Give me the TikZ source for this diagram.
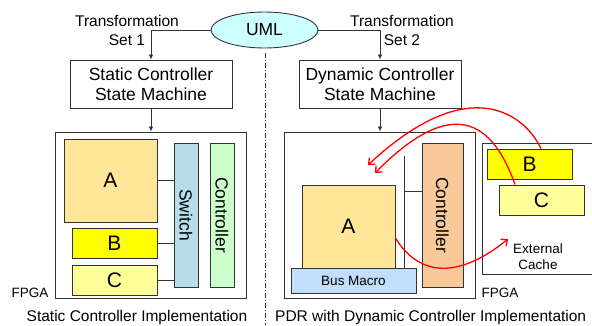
\documentclass[tikz,border=0pt]{standalone}
\usepackage{fontspec}
\setmainfont{Liberation Sans}
\usetikzlibrary{shapes.geometric,arrows.meta,calc}

\definecolor{umlc}{HTML}{CCFFFF}
\definecolor{blockA}{HTML}{FFE699}
\definecolor{blockB}{HTML}{FFFF00}
\definecolor{blockC}{HTML}{FFFF99}
\definecolor{switchc}{HTML}{B7DEE8}
\definecolor{ctrlgreen}{HTML}{CCFFCC}
\definecolor{busc}{HTML}{C2DEFA}
\definecolor{ctrlorange}{HTML}{FAC99A}
\definecolor{linec}{HTML}{333333}

\begin{document}
\begin{tikzpicture}[x=1pt,y=-1pt,
  edge/.style={draw=linec, line width=0.8pt},
  blk/.style={draw=linec, line width=0.9pt, inner sep=0pt, align=center},
  lbl/.style={font=\fontsize{15.5}{19}\selectfont, align=center, inner sep=0pt},
  boxfont/.style={font=\fontsize{17.5}{20}\selectfont},
  big/.style={font=\fontsize{21}{24}\selectfont},
  small/.style={font=\fontsize{13.5}{15.5}\selectfont, align=center, inner sep=0pt},
  arr/.style={edge, -{Latex[length=5pt,width=4.5pt]}},
  redarr/.style={draw=red, line width=1.3pt, -{Straight Barb[length=5pt,width=9pt]}},
  divider/.style={draw=linec, line width=0.8pt, dash pattern=on 5pt off 2pt on 1pt off 2pt},
]
\useasboundingbox (0,0) rectangle (592,325);
\clip (0,0) rectangle (592,325);

% model source
\node[blk, ellipse, fill=umlc, minimum width=107pt, minimum height=36pt, boxfont] (uml) at (264.5,30) {UML};

% state machines
\node[blk, minimum width=162pt, minimum height=48pt, boxfont] (static) at (151,84) {Static Controller\\State Machine};
\node[blk, minimum width=162pt, minimum height=48pt, boxfont] (dynamic) at (380,84) {Dynamic Controller\\State Machine};

\node[lbl] (tset1) at (127,30.5) {Transformation\\Set 1};
\node[lbl] (tset2) at (402,30.5) {Transformation\\Set 2};

\draw[arr] (uml.west) -| (static.north);
\draw[arr] (uml.east) -| (dynamic.north);

% separator between the two implementations
\coordinate (sepTop) at (265.5,53);
\coordinate (sepBot) at (265.5,325);
\draw[divider] (sepTop) -- (sepBot);

% ---------- static controller implementation ----------
\node[blk, minimum width=191pt, minimum height=166pt] (fpgaL) at (150.5,215) {};
\draw[arr] (static.south) -- (static.south |- fpgaL.north);

\node[blk, fill=blockA, minimum width=93pt, minimum height=83pt, big] (aL) at (110.5,180.5) {A};
\node[blk, fill=blockB, minimum width=85pt, minimum height=30pt, big] (bL) at (114.5,243) {B};
\node[blk, fill=blockC, minimum width=85pt, minimum height=30pt, big] (cL) at (114.5,280) {C};
\node[blk, fill=switchc, minimum width=24pt, minimum height=144pt] (sw) at (186,215) {};
\node[boxfont, rotate=-90] (swtxt) at (sw.center) {Switch};
\node[blk, fill=ctrlgreen, minimum width=24pt, minimum height=144pt] (ctrlL) at (222,215) {};
\node[boxfont, rotate=-90] (ctrlLtxt) at (ctrlL.center) {Controller};

\draw[edge] (aL.east) -- (aL.east -| sw.west);
\draw[edge] (bL.east) -- (bL.east -| sw.west);
\draw[edge] (cL.east) -- (cL.east -| sw.west);

\node[small] (fpgaLtxt) at (30,293) {FPGA};
\node[lbl] (capL) at (137,317) {Static Controller Implementation};

% ---------- dynamic controller implementation ----------
\node[blk, minimum width=191pt, minimum height=166pt] (fpgaR) at (379.5,215) {};
\draw[arr] (dynamic.south) -- (dynamic.south |- fpgaR.north);

\node[blk, fill=blockA, minimum width=93pt, minimum height=83pt, big] (aR) at (348.5,226.5) {A};
\node[blk, fill=busc, minimum width=125pt, minimum height=25pt, small] (bus) at (353.5,280.5) {Bus Macro};
\node[blk, fill=ctrlorange, minimum width=41pt, minimum height=144pt] (ctrlR) at (442.5,215) {};
\node[boxfont, rotate=-90] (ctrlRtxt) at (ctrlR.center) {Controller};

\coordinate (busTop) at (404,156);
\coordinate (busJoin) at (404,191);
\draw[edge] (busTop) -- (busTop |- bus.north);
\draw[edge] (busJoin) -- (busJoin -| ctrlR.west);

% external cache holding the swapped-out modules
\node[blk, minimum width=118pt, minimum height=131pt] (cache) at (541,208.5) {};
\node[blk, fill=blockB, minimum width=85pt, minimum height=30pt, big] (bR) at (529.5,164) {B};
\node[blk, fill=blockC, minimum width=85pt, minimum height=30pt, big] (cR) at (541.5,200) {C};
\node[small] (cachetxt) at (538,256.5) {External\\Cache};

\node[small] (fpgaRtxt) at (500,293) {FPGA};
\node[lbl, anchor=west] (capR) at (275,317) {PDR with Dynamic Controller Implementation};

% reconfiguration traffic
\coordinate (tipB) at (368,165);
\coordinate (tipC) at (375,173);
\coordinate (tipOut) at (508,239);
\draw[redarr] ([xshift=11.5pt]bR.north) .. controls (525,115) and (470,70) .. (tipB);
\draw[redarr] ([xshift=-26.5pt]cR.north) .. controls (492,120) and (452,95) .. (tipC);
\draw[redarr] ([yshift=-11.5pt]aR.east) .. controls (420,278) and (460,278) .. (tipOut);
\end{tikzpicture}
\end{document}
